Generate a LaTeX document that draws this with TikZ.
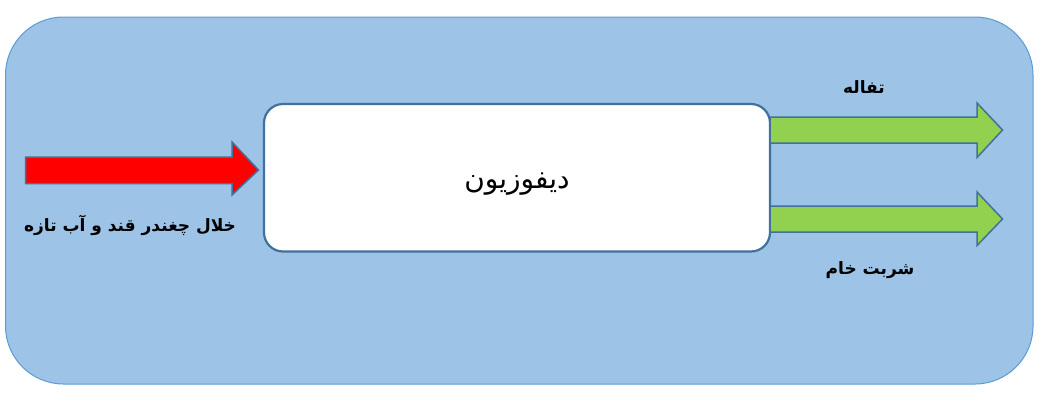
\documentclass[tikz,border=0pt]{standalone}
\usepackage{fontspec}
\newfontfamily\arabicfont[Script=Arabic]{DejaVu Sans}
\TeXXeTstate=1
\definecolor{bgfill}{HTML}{9DC3E6}
\definecolor{bgline}{HTML}{5B9BD5}
\definecolor{boxline}{HTML}{41719C}
\definecolor{redfill}{HTML}{FF0000}
\definecolor{greenfill}{HTML}{92D050}
\tikzset{
  panel/.style={fill=bgfill,draw=bgline,line width=1pt,rounded corners=58pt},
  procbox/.style={fill=white,draw=boxline,line width=2.2pt,rounded corners=19pt},
  blockarrow/.style={draw=boxline,line width=1.5pt,line join=miter},
  lbl/.style={font=\arabicfont\bfseries\fontsize{17}{20}\selectfont,inner sep=0pt},
  mainlbl/.style={font=\arabicfont\fontsize{28}{32}\selectfont,inner sep=0pt}
}
\begin{document}
\begin{tikzpicture}[x=1pt,y=-1pt]
\useasboundingbox (0,0) rectangle (1038,407);
\draw[panel] (5.5,17) rectangle (1033,384);
\draw[procbox] (264,104) rectangle (770,251.5);
\node[mainlbl] (difflbl) at (517,184) {\beginR دیفوزیون\endR};
% red input arrow
\draw[blockarrow,fill=redfill] (25.5,157) -- (232,157) -- (232,142) -- (258.5,170) -- (232,195) -- (232,183.5) -- (25.5,183.5) -- cycle;
% green output arrows
\draw[blockarrow,fill=greenfill] (770,117) -- (977,117) -- (977,103) -- (1002.5,130) -- (977,157.5) -- (977,143) -- (770,143) -- cycle;
\draw[blockarrow,fill=greenfill] (770,206) -- (977,206) -- (977,192) -- (1002.5,219) -- (977,245.5) -- (977,232) -- (770,232) -- cycle;
\node[lbl] (inlbl) at (130,225) {\beginR خلال چغندر قند و آب تازه\endR};
\node[lbl] (outa) at (864,87) {\beginR تفاله\endR};
\node[lbl] (outb) at (870,270) {\beginR شربت خام\endR};
\end{tikzpicture}
\end{document}
